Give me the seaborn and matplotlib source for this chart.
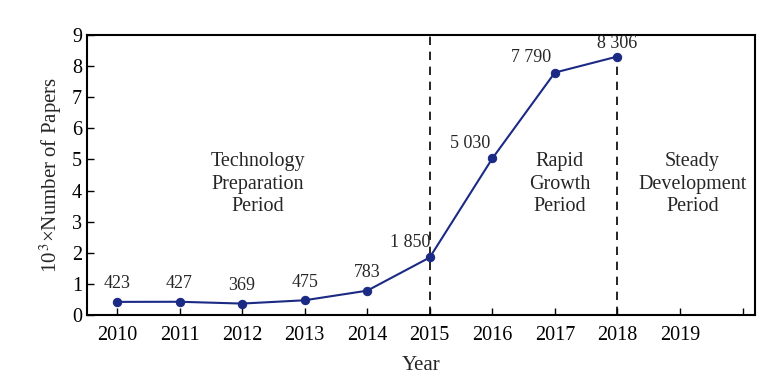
import matplotlib
matplotlib.use('Agg')
import matplotlib.pyplot as plt
import seaborn as sns
import pandas as pd

years = [2010, 2011, 2012, 2013, 2014, 2015, 2016, 2017, 2018]
papers = [0.423, 0.427, 0.369, 0.475, 0.783, 1.850, 5.030, 7.790, 8.306]
labels = ['423', '427', '369', '475', '783', '1 850', '5 030', '7 790', '8 306']
tick_years = [2010, 2011, 2012, 2013, 2014, 2015, 2016, 2017, 2018, 2019, 2020]
tick_labels = ['2010', '2011', '2012', '2013', '2014', '2015', '2016', '2017', '2018', '2019', '']
boundaries = [2015, 2018]
periods = ['Technology\nPreparation\nPeriod', 'Rapid\nGrowth\nPeriod', 'Steady\nDevelopment\nPeriod']
period_x = [2012.25, 2017.08, 2019.2]

sns.set_style('ticks')
plt.rcParams['font.family'] = ['Liberation Serif', 'DejaVu Serif']
plt.rcParams['mathtext.fontset'] = 'stix'

df = pd.DataFrame({'year': years, 'papers': papers})

fig = plt.figure(figsize=(7.76, 3.88), dpi=100)
ax = fig.add_axes([0.112, 0.188, 0.861, 0.722])

sns.lineplot(data=df, x='year', y='papers', ax=ax, color='#1b2a84',
             marker='o', markersize=6, markeredgecolor='#1b2a84', linewidth=1.5)

# dashed boundaries: 2015 goes to the top, 2018 stops at its point
ax.vlines(boundaries[0], 0, 9, color='black', linestyle=(0, (5, 4)), linewidth=1.2, zorder=0)
ax.vlines(boundaries[1], 0, papers[years.index(boundaries[1])], color='black',
          linestyle=(0, (5, 4)), linewidth=1.2, zorder=0)

offsets = [(0, 7), (0, 7), (0, 7), (0, 7), (0, 7), (-14, 5), (-16, 5), (-17, 5), (0, 3)]
for x, y, t, off in zip(years, papers, labels, offsets):
    ax.annotate(t, xy=(x, y), xytext=off, textcoords='offset points',
                ha='center', va='bottom', fontsize=13)

for px, txt in zip(period_x, periods):
    ax.text(px, 4.2, txt, ha='center', va='center', fontsize=14.5, linespacing=1.25)

ax.set_xlim(2009.52, 2020.2)
ax.set_ylim(0, 9)
ax.set_xticks(tick_years)
ax.set_xticklabels(tick_labels)
ax.set_yticks(range(0, 10))
ax.tick_params(direction='in', labelsize=14.5, length=5, width=1, colors='black')
ax.tick_params(axis='x', pad=8)
for s in ax.spines.values():
    s.set_linewidth(1.5)
    s.set_color('black')

ax.set_xlabel('Year', fontsize=15, labelpad=8)
ax.set_ylabel('10$^{\\,3}$×Number of Papers', fontsize=15, labelpad=6)

fig.savefig('out.png', dpi=100)
